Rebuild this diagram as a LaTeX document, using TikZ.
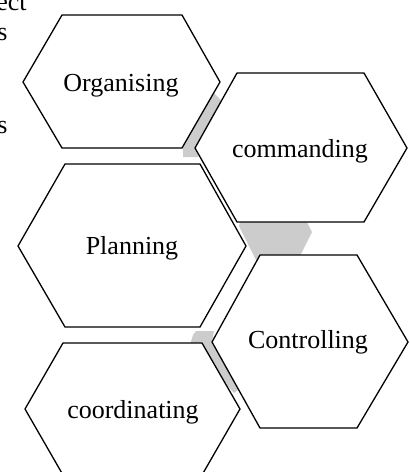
\documentclass[tikz,border=0pt]{standalone}
\usepackage{fontspec}
\setmainfont{Liberation Serif}
\usepackage{tikz}
\tikzstyle{hexa}=[draw=black,fill=white,line width=0.65pt]
\tikzstyle{link}=[fill=black!20]
\tikzstyle{word}=[inner sep=0pt,anchor=base,font=\fontsize{13}{15.6}\selectfont]
\begin{document}
\begin{tikzpicture}[x=0.5pt,y=-0.5pt]
		\useasboundingbox (0,0) rectangle (409,472);
		\clip (0,0) rectangle (409,472);
		% page text
		\node[word,anchor=base east] (frag1) at (27,10) {ect};
		\node[word,anchor=base east] (frag2) at (8,40) {s};
		\node[word,anchor=base east] (frag3) at (8,133) {s};
		% links
		\fill[link] (205,92) -- (213,92) -- (224,103) -- (198,157) -- (183,157) -- (183,148) -- cycle;
		\fill[link] (240,222) -- (307,222) -- (312,232) -- (300,256) -- (257,262) -- (239,226) -- cycle;
		\fill[link] (196,331) -- (214,331) -- (212,342) -- (244,385) -- (234,393) -- (190,345) -- (193,335) -- cycle;
		% hexagons
		\draw[hexa] (62,15) -- (182,15) -- (220,82) -- (182,148) -- (62,148) -- (23,82) -- cycle;
		\draw[hexa] (237,73) -- (364,73) -- (407,148) -- (364,222) -- (237,222) -- (195,148) -- cycle;
		\draw[hexa] (65,164) -- (200,164) -- (246,246) -- (200,327) -- (65,327) -- (18,246) -- cycle;
		\draw[hexa] (260,255) -- (357,255) -- (408,342) -- (357,428) -- (260,428) -- (212,342) -- cycle;
		\draw[hexa] (63,343) -- (202,343) -- (240,409) -- (202,475) -- (63,475) -- (25,409) -- cycle;
		% text
		\node[word] (org) at (121,91) {Organising};
		\node[word] (com) at (300,157) {commanding};
		\node[word] (plan) at (132,254) {Planning};
		\node[word] (ctrl) at (308,348) {Controlling};
		\node[word] (coord) at (133,418) {coordinating};
	\end{tikzpicture}
\end{document}
